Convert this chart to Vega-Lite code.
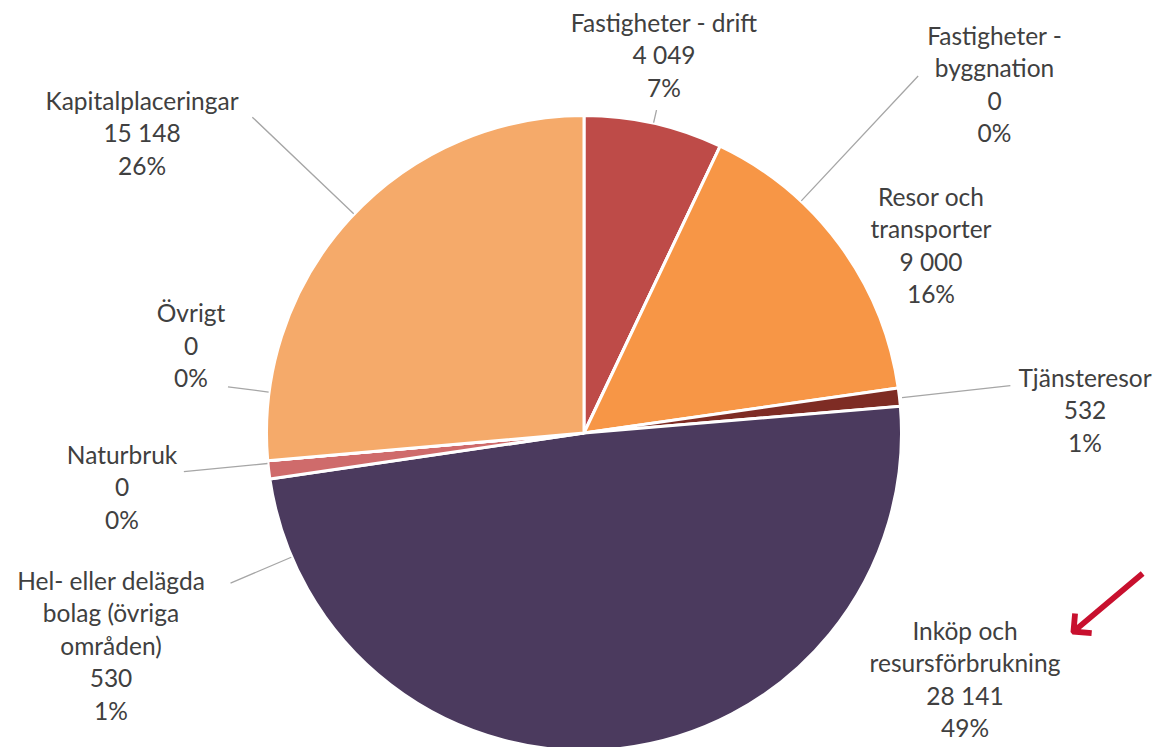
{
  "$schema": "https://vega.github.io/schema/vega-lite/v6.json",
  "width": 1168,
  "height": 866,
  "autosize": "none",
  "padding": 0,
  "background": "white",
  "config": {
    "view": {"stroke": null},
    "text": {"font": "Lato", "fontSize": 24.5, "fill": "#404040", "lineBreak": "\n", "lineHeight": 32.5, "align": "center", "baseline": "middle"}
  },
  "data": {
    "values": [
      {"ordning": 1, "kategori": "Fastigheter - drift", "utslapp": 4049, "etikett": "Fastigheter - drift\n4 049\n7%"},
      {"ordning": 2, "kategori": "Fastigheter - byggnation", "utslapp": 0, "etikett": "Fastigheter -\nbyggnation\n0\n0%"},
      {"ordning": 3, "kategori": "Resor och transporter", "utslapp": 9000, "etikett": "Resor och\ntransporter\n9 000\n16%"},
      {"ordning": 4, "kategori": "Tjänsteresor", "utslapp": 532, "etikett": "Tjänsteresor\n532\n1%"},
      {"ordning": 5, "kategori": "Inköp och resursförbrukning", "utslapp": 28141, "etikett": "Inköp och\nresursförbrukning\n28 141\n49%"},
      {"ordning": 6, "kategori": "Hel- eller delägda bolag (övriga områden)", "utslapp": 530, "etikett": "Hel- eller delägda\nbolag (övriga\nområden)\n530\n1%"},
      {"ordning": 7, "kategori": "Naturbruk", "utslapp": 0, "etikett": "Naturbruk\n0\n0%"},
      {"ordning": 8, "kategori": "Övrigt", "utslapp": 0, "etikett": "Övrigt\n0\n0%"},
      {"ordning": 9, "kategori": "Kapitalplaceringar", "utslapp": 15148, "etikett": "Kapitalplaceringar\n15 148\n26%"}
    ]
  },
  "transform": [
    {"stack": "utslapp", "groupby": [], "sort": [{"field": "ordning", "order": "ascending"}], "as": ["v0", "v1"]}
  ],
  "layer": [
    {
      "mark": {"type": "arc", "radius": 317.5, "stroke": "white", "strokeWidth": 3},
      "encoding": {
        "theta": {"field": "v1", "type": "quantitative", "scale": {"nice": false, "zero": true}},
        "theta2": {"field": "v0"},
        "color": {
          "field": "kategori", "type": "nominal", "legend": null,
          "scale": {
            "domain": ["Fastigheter - drift", "Fastigheter - byggnation", "Resor och transporter", "Tjänsteresor", "Inköp och resursförbrukning", "Hel- eller delägda bolag (övriga områden)", "Naturbruk", "Övrigt", "Kapitalplaceringar"],
            "range": ["#BE4B48", "#8064A2", "#F79646", "#7E2C24", "#4B3A5E", "#CF6B6B", "#9BBB59", "#4BACC6", "#F5AA6A"]
          }
        }
      }
    },
    {"transform": [{"filter": "datum.ordning == 1"}], "mark": {"type": "arc", "radius": 331, "radius2": 318, "filled": false, "stroke": "#A6A6A6", "strokeWidth": 1.3, "thetaOffset": 0.2208, "theta2Offset": 0.2208}, "encoding": {"theta": {"field": "v0", "type": "quantitative"}, "theta2": {"field": "v0"}}},
    {"transform": [{"filter": "datum.ordning == 2"}], "mark": {"type": "arc", "radius": 489, "radius2": 318, "filled": false, "stroke": "#A6A6A6", "strokeWidth": 1.3, "thetaOffset": 0.3091, "theta2Offset": 0.3091}, "encoding": {"theta": {"field": "v0", "type": "quantitative"}, "theta2": {"field": "v0"}}},
    {"transform": [{"filter": "datum.ordning == 4"}], "mark": {"type": "arc", "radius": 429, "radius2": 320, "filled": false, "stroke": "#A6A6A6", "strokeWidth": 1.3, "thetaOffset": 0.0316, "theta2Offset": 0.0316}, "encoding": {"theta": {"field": "v0", "type": "quantitative"}, "theta2": {"field": "v0"}}},
    {"transform": [{"filter": "datum.ordning == 6"}], "mark": {"type": "arc", "radius": 384, "radius2": 318, "filled": false, "stroke": "#A6A6A6", "strokeWidth": 1.3, "thetaOffset": -0.2561, "theta2Offset": -0.2561}, "encoding": {"theta": {"field": "v0", "type": "quantitative"}, "theta2": {"field": "v0"}}},
    {"transform": [{"filter": "datum.ordning == 7"}], "mark": {"type": "arc", "radius": 402, "radius2": 318, "filled": false, "stroke": "#A6A6A6", "strokeWidth": 1.3, "thetaOffset": -0.0087, "theta2Offset": -0.0087}, "encoding": {"theta": {"field": "v0", "type": "quantitative"}, "theta2": {"field": "v0"}}},
    {"transform": [{"filter": "datum.ordning == 8"}], "mark": {"type": "arc", "radius": 359, "radius2": 318, "filled": false, "stroke": "#A6A6A6", "strokeWidth": 1.3, "thetaOffset": 0.2164, "theta2Offset": 0.2164}, "encoding": {"theta": {"field": "v0", "type": "quantitative"}, "theta2": {"field": "v0"}}},
    {"transform": [{"filter": "datum.ordning == 9"}], "mark": {"type": "arc", "radius": 458, "radius2": 318, "filled": false, "stroke": "#A6A6A6", "strokeWidth": 1.3, "thetaOffset": 0.8483, "theta2Offset": 0.8483}, "encoding": {"theta": {"field": "v0", "type": "quantitative"}, "theta2": {"field": "v0"}}},
    {"transform": [{"filter": "datum.ordning == 1"}], "mark": {"type": "text", "radius": 415.8, "thetaOffset": 0.1936}, "encoding": {"theta": {"field": "v0", "type": "quantitative"}, "text": {"field": "etikett"}}},
    {"transform": [{"filter": "datum.ordning == 2"}], "mark": {"type": "text", "radius": 569.7, "thetaOffset": 0.3614}, "encoding": {"theta": {"field": "v0", "type": "quantitative"}, "text": {"field": "etikett"}}},
    {"transform": [{"filter": "datum.ordning == 3"}], "mark": {"type": "text", "radius": 418.5, "thetaOffset": 0.5342}, "encoding": {"theta": {"field": "v0", "type": "quantitative"}, "text": {"field": "etikett"}}},
    {"transform": [{"filter": "datum.ordning == 4"}], "mark": {"type": "text", "radius": 503.8, "thetaOffset": 0.0370}, "encoding": {"theta": {"field": "v0", "type": "quantitative"}, "text": {"field": "etikett"}}},
    {"transform": [{"filter": "datum.ordning == 5"}], "mark": {"type": "text", "radius": 430.3, "thetaOffset": 0.5675}, "encoding": {"theta": {"field": "v0", "type": "quantitative"}, "text": {"field": "etikett"}}},
    {"transform": [{"filter": "datum.ordning == 6"}], "mark": {"type": "text", "radius": 496.2, "thetaOffset": -0.1616}, "encoding": {"theta": {"field": "v0", "type": "quantitative"}, "text": {"field": "etikett"}}},
    {"transform": [{"filter": "datum.ordning == 7"}], "mark": {"type": "text", "radius": 462.6, "thetaOffset": 0.0355}, "encoding": {"theta": {"field": "v0", "type": "quantitative"}, "text": {"field": "etikett"}}},
    {"transform": [{"filter": "datum.ordning == 8"}], "mark": {"type": "text", "radius": 410.3, "thetaOffset": 0.3790}, "encoding": {"theta": {"field": "v0", "type": "quantitative"}, "text": {"field": "etikett"}}},
    {"transform": [{"filter": "datum.ordning == 9"}], "mark": {"type": "text", "radius": 551.6, "thetaOffset": 0.7288}, "encoding": {"theta": {"field": "v0", "type": "quantitative"}, "text": {"field": "etikett"}}},
    {"transform": [{"filter": "datum.ordning == 5"}], "mark": {"type": "text", "radius": 551.2, "thetaOffset": 0.3996, "angle": 320, "font": "DejaVu Sans", "fontSize": 70, "fill": "#C8102E"}, "encoding": {"theta": {"field": "v0", "type": "quantitative"}, "text": {"value": "⟵"}}}
  ]
}
